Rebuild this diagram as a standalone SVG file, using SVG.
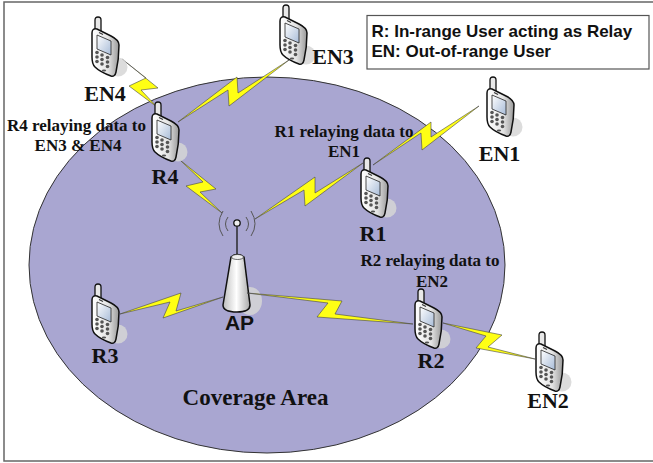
<svg xmlns="http://www.w3.org/2000/svg" width="653" height="463" viewBox="0 0 653 463">
<style>
.s{font-family:"Liberation Serif",serif;font-weight:bold;fill:#111}
.l{font-size:22px}.m{font-size:17px}
.a{font-family:"Liberation Sans",sans-serif;font-weight:bold;fill:#111}
.bolt{fill:#ffff14;stroke:#444;stroke-width:.6;stroke-linejoin:miter}
</style>
<defs>
<linearGradient id="bd" x1="0" x2="1" y1="0" y2="0"><stop offset="0" stop-color="#fff"/><stop offset=".6" stop-color="#e4e4e4"/><stop offset="1" stop-color="#999"/></linearGradient>
<linearGradient id="tw" x1="0" x2="1" y1="0" y2="0"><stop offset="0" stop-color="#bdbdbd"/><stop offset=".5" stop-color="#fff"/><stop offset="1" stop-color="#a8a8a8"/></linearGradient>
<linearGradient id="sc" x1="0" x2="1" y1="0" y2="1"><stop offset="0" stop-color="#ffffff"/><stop offset="1" stop-color="#a8bcd8"/></linearGradient>
<g id="phone">
<ellipse cx="20" cy="50" rx="9.500" ry="9.500" fill="#d6d6d6" fill-opacity=".85"/>
<path d="M-3,14V3Q-3,0 0,0Q3,0 3,3V16Z" fill="#e8e8e8" stroke="#111" stroke-width="1.300"/>
<path d="M-6,16Q-6,11 -1,12L13,19Q21,23 21,28Q21,42 18,55Q17,60 13,59Q2,55 -3,50Q-6,47 -6,40Z" fill="url(#bd)" stroke="#111" stroke-width="1.500"/>
<path d="M-1,18L13,24V38L-1,32Z" fill="url(#sc)" stroke="#222" stroke-width=".8"/>
<path d="M1,15.500L5,17.500" stroke="#333" stroke-width="1.200"/>
<g fill="#555">
<circle cx="-1" cy="35.500" r="1.800"/><circle cx="4" cy="38" r="1.800"/><circle cx="9.500" cy="40.500" r="1.800"/>
<circle cx="-1" cy="40" r="1.800"/><circle cx="4" cy="42.500" r="1.800"/><circle cx="9.500" cy="45" r="1.800"/>
<circle cx="-1" cy="44.500" r="1.800"/><circle cx="4" cy="47" r="1.800"/><circle cx="9.500" cy="49.500" r="1.800"/>
<ellipse cx="6" cy="53.500" rx="2.200" ry="1"/>
</g>
</g>
</defs>
<path id="frame" d="M653,2H4V461H653" fill="#fff" stroke="#666" stroke-width="1.500"/>
<ellipse id="coverage" cx="267" cy="265" rx="238" ry="188" fill="#a9a6d1" stroke="#333" stroke-width="1"/>
<g id="ap">
<ellipse cx="250" cy="301" rx="12" ry="14" fill="#d6d6d6" fill-opacity=".85"/>
<path d="M237,224V256" stroke="#222" stroke-width="1.400"/>
<circle cx="237" cy="223" r="3.200" fill="#eee" stroke="#111" stroke-width="1.300"/>
<path fill="none" stroke="#555" stroke-width="1" d="M228,217Q223,224 228,231M246,217Q251,224 246,231M223,211Q215,224 223,236M251,211Q259,224 251,236"/>
<path d="M231,257Q237,252 244,257L250,305Q250,312 237,312Q223,312 223,305Z" fill="url(#tw)" stroke="#111" stroke-width="1.500"/>
<ellipse cx="237.500" cy="257" rx="6" ry="2.500" fill="#eee" stroke="#333" stroke-width=".7"/>
<text class="a" x="239.500" y="330" font-size="21" text-anchor="middle">AP</text>
</g>
<g id="connectors">
<polygon class="bolt" points="122,59 158,88 141,90 157,107 129,86 146,78"/>
<polygon class="bolt" points="178,122 237,77 238,93 289,60 229,106 228,90"/>
<polygon class="bolt" points="180,160 216,189 200,192 222,213 186,186 203,182"/>
<polygon class="bolt" points="255,219 315,177 315,193 363,163 305,206 304,190"/>
<polygon class="bolt" points="373,165 431,122 431,137 479,106 422,150 421,133"/>
<polygon class="bolt" points="120,314 181,293 176,311 223,297 163,318 170,302"/>
<polygon class="bolt" points="247,293 342,301 335,314 413,324 317,317 328,303"/>
<polygon class="bolt" points="443,323 502,335 488,347 535,359 476,348 486,336"/>
</g>
<g id="en4"><use href="#phone" x="98" y="17"/><text class="s l" x="105" y="101" text-anchor="middle">EN4</text></g>
<g id="en3"><use href="#phone" x="286" y="5"/><text class="s l" x="333" y="64" text-anchor="middle">EN3</text></g>
<g id="r4"><use href="#phone" x="158" y="102"/><text class="s l" x="165" y="184" text-anchor="middle">R4</text>
<text class="s m" x="76.500" y="131" text-anchor="middle">R4 relaying data to</text><text class="s m" x="78" y="151" text-anchor="middle">EN3 &amp; EN4</text></g>
<g id="en1"><use href="#phone" x="493" y="77"/><text class="s l" x="499.500" y="161" text-anchor="middle">EN1</text></g>
<g id="r1"><use href="#phone" x="367" y="158"/><text class="s l" x="373" y="241" text-anchor="middle">R1</text>
<text class="s m" x="344" y="137" text-anchor="middle">R1 relaying data to</text><text class="s m" x="344" y="157" text-anchor="middle">EN1</text></g>
<g id="r2"><use href="#phone" x="421" y="289"/><text class="s l" x="431" y="368" text-anchor="middle">R2</text>
<text class="s m" x="430" y="266" text-anchor="middle">R2 relaying data to</text><text class="s m" x="432" y="287" text-anchor="middle">EN2</text></g>
<g id="r3"><use href="#phone" x="98" y="284"/><text class="s l" x="105" y="363" text-anchor="middle">R3</text></g>
<g id="en2"><use href="#phone" x="542" y="332"/><text class="s l" x="548" y="408" text-anchor="middle">EN2</text></g>
<text id="area" class="s" x="255.500" y="405" font-size="23" text-anchor="middle">Coverage Area</text>
<g id="legend"><rect x="367" y="15.500" width="282" height="53.500" fill="#fff" stroke="#555" stroke-width="1.200"/>
<text class="a" x="371.500" y="37" font-size="17">R: In-range User acting as Relay</text>
<text class="a" x="371.500" y="57" font-size="17">EN: Out-of-range User</text></g>
</svg>
